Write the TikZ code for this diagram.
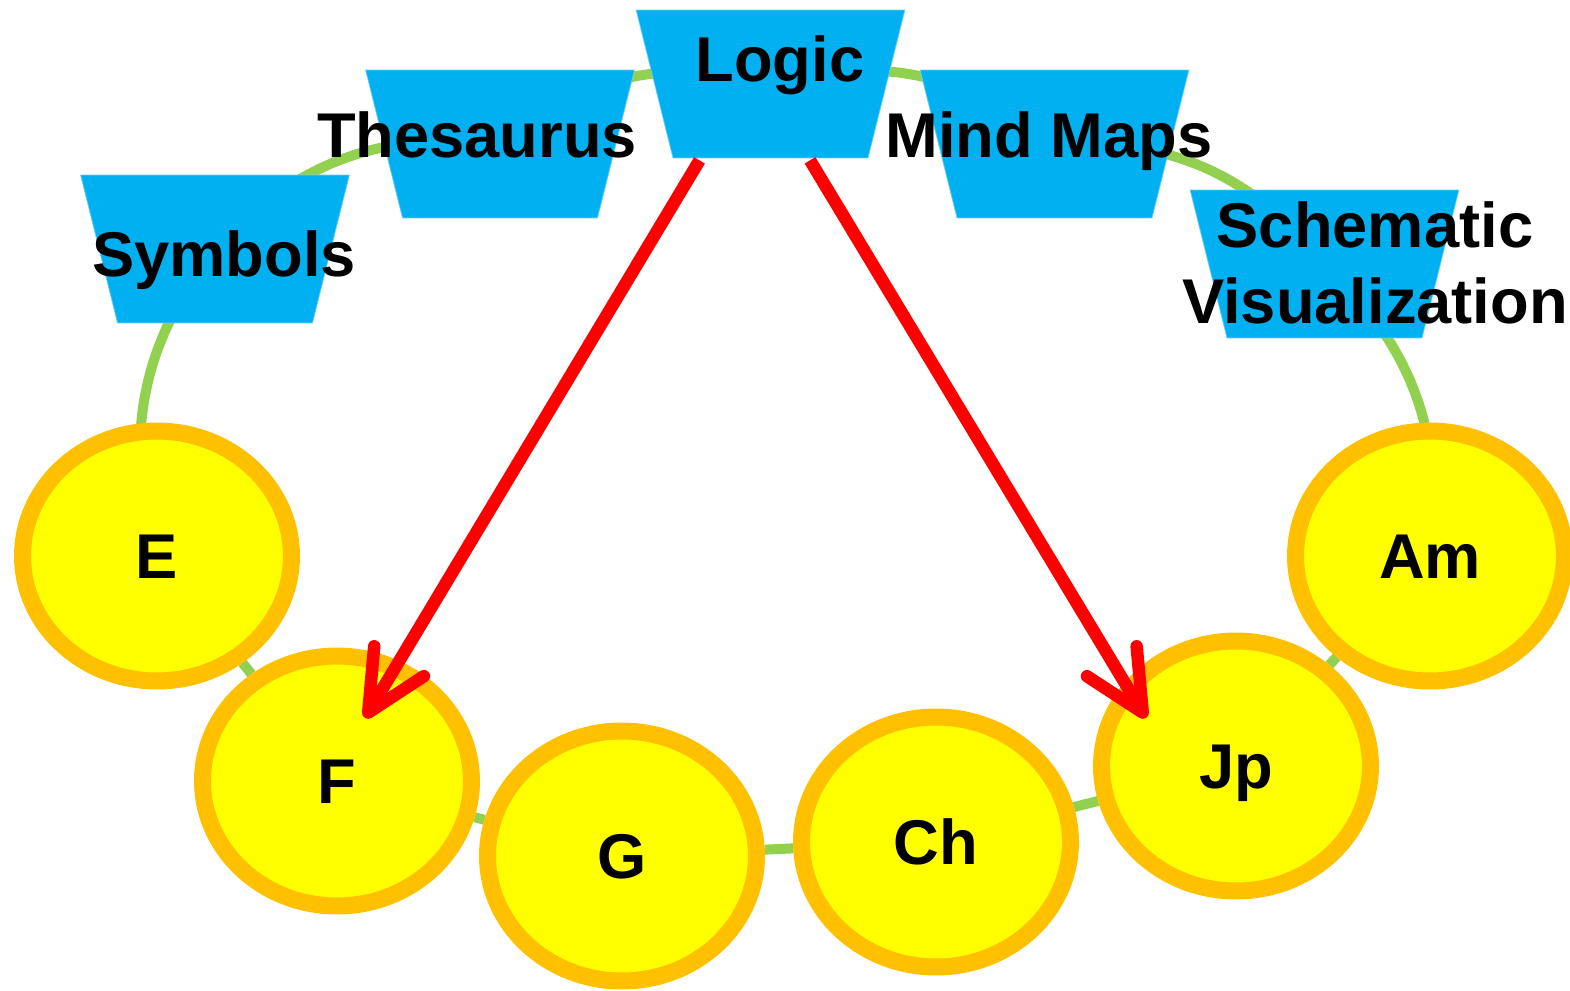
\documentclass[tikz,border=0pt]{standalone}
\usepackage{fontspec}
\setmainfont{Liberation Sans}
\usetikzlibrary{shapes.geometric,arrows.meta,calc,backgrounds}

\definecolor{skyblue}{RGB}{0,176,240}
\definecolor{amber}{RGB}{255,192,0}
\definecolor{lemon}{RGB}{255,255,0}
\definecolor{leaf}{RGB}{146,208,80}

\tikzset{
  lang/.style={ellipse, draw=amber, fill=lemon, line width=0.34cm, minimum width=5.38cm, minimum height=5.0cm, inner sep=0pt, font=\bfseries\fontsize{36}{43}\selectfont, text height=25.8pt, text depth=0pt},
  cat/.style={trapezium, shape border rotate=180, trapezium left angle=76, trapezium right angle=76, inner xsep=1.95cm, inner ysep=1.48cm, minimum size=0pt, fill=skyblue, draw=skyblue!60, line width=0.4pt},
  cattext/.style={anchor=base, inner sep=0pt, align=center, font=\bfseries\fontsize{36}{43}\selectfont},
  link/.style={draw=leaf, line width=0.2cm},
  pointer/.style={draw=red, line width=0.25cm, -{Straight Barb[length=1.2cm, width=1.16cm, round]}}
}

\begin{document}
\begin{tikzpicture}[x=0.02cm, y=0.02cm]
  \useasboundingbox (0,0) rectangle (1570,-991);
  % Categories on the upper arc
  \node[cat] (sym) at (215,-249) {};
  \node[cat] (thes) at (500,-144) {};
  \node[cat] (logic) at (770.5,-84) {};
  \node[cat] (mind) at (1054.5,-144) {};
  \node[cat] (schem) at (1324.5,-264) {};
  % Languages on the lower row
  \node[lang] (e) at (157,-556) {E};
  \node[lang] (f) at (337,-781) {F};
  \node[lang] (g) at (622,-856) {G};
  \node[lang] (ch) at (936,-842) {Ch};
  \node[lang] (jp) at (1236,-766) {Jp};
  \node[lang] (am) at (1430,-556) {Am};
  % Category texts
  \node[cattext] (sym-text) at ($(sym)+(9,-27)$) {Symbols};
  \node[cattext] (thes-text) at ($(thes)+(-23,-13)$) {Thesaurus};
  \node[cattext] (logic-text) at ($(logic)+(9.5,3)$) {Logic};
  \node[cattext] (mind-text) at ($(mind)+(-5.5,-13)$) {Mind Maps};
  \node[cattext] (schem-text) at ($(schem)+(50.5,-59)$) {Schematic\\Visualization};
  % Ring
  \begin{scope}[on background layer]
    \path[link] (e.center) to[bend left=27] (sym.center) to[bend left=27] (thes.center)
      to[bend left=27] (logic.center) to[bend left=27] (mind.center)
      to[bend left=27] (schem.center) to[bend left=27] (am.center);
    \path[link] (am) -- (jp) -- (ch) -- (g) -- (f) -- (e);
  \end{scope}
  % Arrows
  \draw[pointer] ($(logic.south)+(-71,-2)$) -- ($(f)+(28,63)$);
  \draw[pointer] ($(logic.south)+(39.5,-2)$) -- ($(jp)+(-90,48)$);
\end{tikzpicture}
\end{document}
